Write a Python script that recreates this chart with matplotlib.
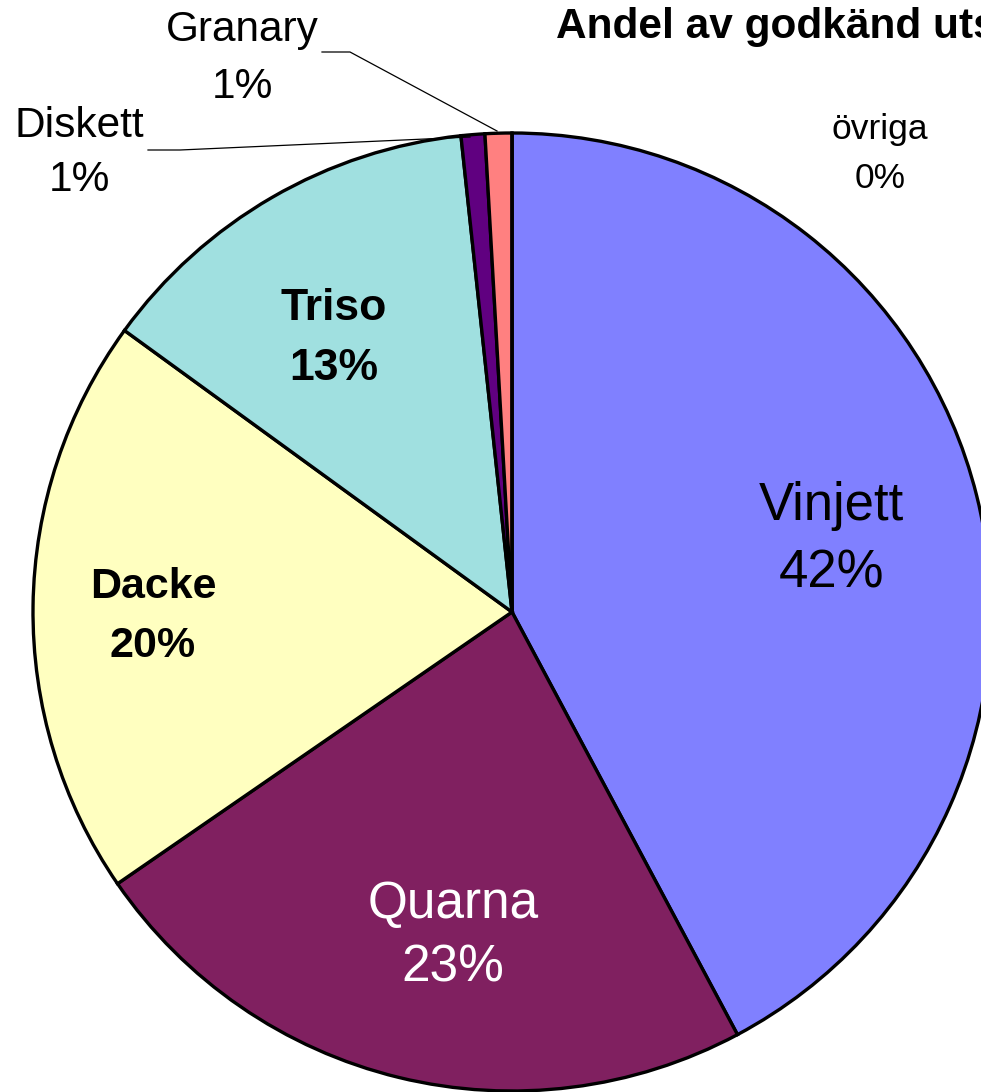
import matplotlib.pyplot as plt

# Andel av godkänd utsäde - pie chart
labels = ["Vinjett", "Quarna", "Dacke", "Triso", "Diskett", "Granary", "övriga"]
values = [42.2, 23.2, 19.6, 13.3, 0.8, 0.9, 0.0]
colors = ["#8080FF", "#802060", "#FFFFC0", "#A0E0E0", "#600080", "#FF8080", "#FFFFFF"]
title = "Andel av godkänd utsäde"

W, H = 981, 1092
plt.rcParams['font.family'] = ['Liberation Sans', 'DejaVu Sans']

fig = plt.figure(figsize=(W / 100, H / 100), dpi=100)
ax = fig.add_axes([0, 0, 1, 1])

ax.pie(values, colors=colors, startangle=90, counterclock=False,
       center=(512, H - 612), radius=479,
       wedgeprops=dict(edgecolor='black', linewidth=2.4))

ax.set_xlim(0, W)
ax.set_ylim(0, H)
ax.set_aspect('equal')
ax.axis('off')

# label placement in picture pixels (x, y from top), size, bold, colour
label_pos = {
    "Vinjett": (831, 506, 573, 38, 'normal', 'black'),
    "Quarna": (453, 904, 968, 37, 'normal', 'white'),
    "Dacke": (153, 587, 646, 31, 'bold', 'black'),
    "Triso": (334, 308, 368, 32, 'bold', 'black'),
    "Diskett": (79, 126, 180, 30.5, 'normal', 'black'),
    "Granary": (242, 30, 87, 30.5, 'normal', 'black'),
    "övriga": (880, 129, 178, 25.5, 'normal', 'black'),
}

for name, v in zip(labels, values):
    x, y1, y2, size, weight, col = label_pos[name]
    ax.text(x, H - y1, name, ha='center', va='center', fontsize=size,
            fontweight=weight, color=col)
    ax.text(x, H - y2, f"{round(v)}%", ha='center', va='center', fontsize=size,
            fontweight=weight, color=col)

# leader lines
ax.plot([322, 350, 497], [H - 52, H - 52, H - 131], color='black', lw=0.9)
ax.plot([148, 180, 470], [H - 150, H - 150, H - 137], color='black', lw=0.9)

ax.text(556, H - 27, title, ha='left', va='center', fontsize=30.5, fontweight='bold')

fig.savefig("out.png", dpi=100)
